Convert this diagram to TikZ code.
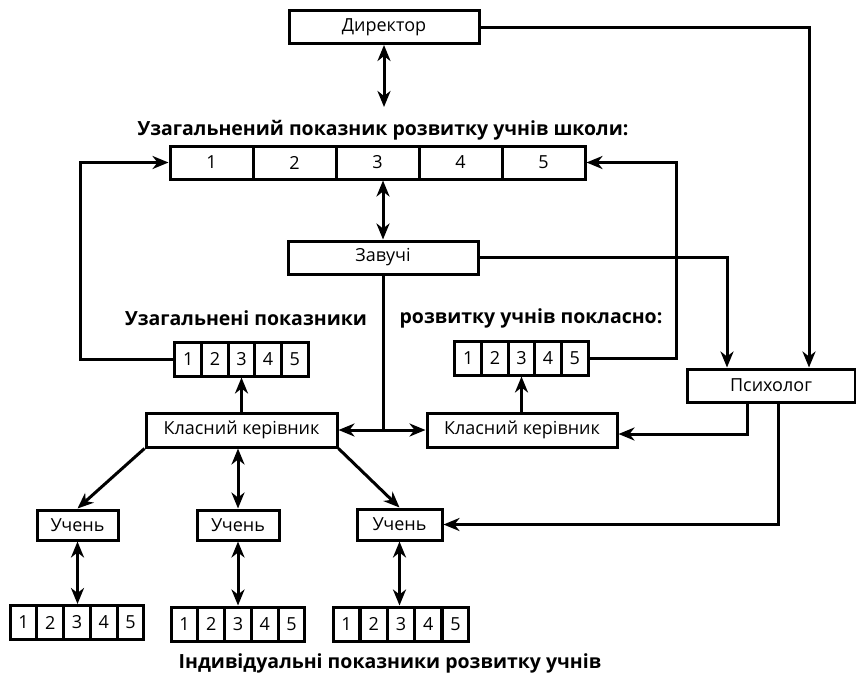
\documentclass[tikz,border=0pt]{standalone}
\usepackage{fontspec}
\setmainfont{Open Sans}
\usetikzlibrary{arrows.meta}
\tikzset{
  box/.style={draw, line width=3pt, inner sep=0pt, font=\fontsize{18}{21}\selectfont, minimum height=33pt},
  cell/.style={box, minimum width=26.7pt, minimum height=34pt},
  bigcell/.style={box, minimum width=83pt},
  lbl/.style={font=\fontsize{19.5}{22}\selectfont\bfseries, inner sep=0pt},
  con/.style={line width=3pt},
  arr/.style={con, -{Stealth[length=16pt,width=13pt,inset=5pt]}},
  dbl/.style={con, {Stealth[length=16pt,width=13pt,inset=5pt]}-{Stealth[length=16pt,width=13pt,inset=5pt]}},
}
\begin{document}
\begin{tikzpicture}[x=1pt,y=-1pt]
\useasboundingbox (0,0) rectangle (856,675);
% main boxes
\node[box, minimum width=190pt] (dir) at (384,27) {Директор};
\node[box, minimum width=190pt] (zav) at (383,257.5) {Завучі};
\node[box, minimum width=168pt] (psy) at (771,385.5) {Психолог};
\node[box, minimum width=191pt, minimum height=34pt] (kk1) at (241.5,430) {Класний керівник};
\node[box, minimum width=190pt, minimum height=34pt] (kk2) at (522,430) {Класний керівник};
\node[box, minimum width=81pt, minimum height=30pt] (u1) at (77.5,525) {Учень};
\node[box, minimum width=82pt, minimum height=30pt] (u2) at (238,525) {Учень};
\node[box, minimum width=85pt, minimum height=31pt] (u3) at (399.5,524.5) {Учень};
% top strip
\foreach \i in {1,...,5}{
  \node[bigcell] (t\i) at ({170+41.5+83*(\i-1)},162.5) {\i};
}
% small strips
\foreach \i in {1,...,5}{
  \node[cell] (a\i) at ({175+13.3+26.6*(\i-1)},359) {\i};
  \node[cell] (b\i) at ({455+13.3+26.6*(\i-1)},358) {\i};
  \node[cell] (c\i) at ({10+13.4+26.8*(\i-1)},622.5) {\i};
  \node[cell] (d\i) at ({171+13.4+26.8*(\i-1)},624) {\i};
  \node[cell] (e\i) at ({333+13.6+27.2*(\i-1)},624) {\i};
}
% labels
\node[lbl] (l1) at (383,130) {Узагальнений показник розвитку учнів школи:};
\node[lbl] (l2) at (246,318) {Узагальнені показники};
\node[lbl] (l3) at (531,318) {розвитку учнів покласно:};
\node[lbl] (l4) at (390,663) {Індивідуальні показники розвитку учнів};
% helper coordinates
\coordinate (lx) at (80,0);
\coordinate (rx) at (676,0);
\coordinate (px0) at (727,0);
\coordinate (px1) at (747,0);
\coordinate (px2) at (778,0);
\coordinate (px3) at (809,0);
\coordinate (dy) at (0,107);
% connectors
\draw[dbl] (dir.south) -- (dir.south |- dy);
\draw[dbl] (zav.north) -- (zav.north |- t3.south);
\draw[arr] (zav.east) -| (px0 |- psy.north);
\draw[arr] (dir.east) -| (px3 |- psy.north);
\draw[arr] (a1.west) -- (a1.west -| lx) |- (t1.west);
\draw[arr] (b5.east) -- (b5.east -| rx) |- (t5.east);
\coordinate (j) at (zav.south |- kk1.east);
\draw[con] (zav.south) -- (j);
\draw[arr] (j) -- (kk1.east);
\draw[arr] (j) -- (kk2.west);
\draw[arr] (kk1.north -| a3) -- (a3.south);
\draw[arr] (kk2.north -| b3) -- (b3.south);
\draw[arr] (psy.south -| px1) |- ([yshift=-4pt]kk2.east);
\draw[arr] (psy.south -| px2) |- (u3.east);
\draw[arr] (kk1.south west) -- (u1.north);
\draw[dbl] (kk1.south -| u2) -- (u2.north);
\draw[arr] (kk1.south east) -- (u3.north);
\draw[dbl] (u1.south) -- (u1.south |- c3.north);
\draw[dbl] (u2.south) -- (u2.south |- d3.north);
\draw[dbl] (u3.south) -- (u3.south |- e3.north);
\end{tikzpicture}
\end{document}
